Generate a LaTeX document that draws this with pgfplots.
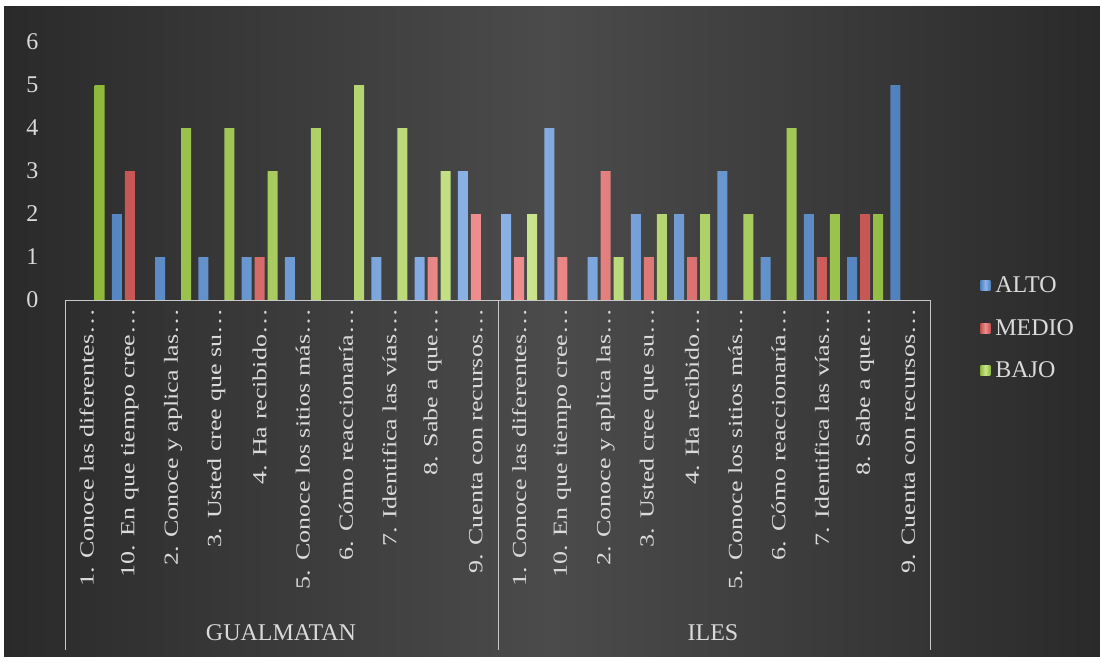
\documentclass[border=0pt]{standalone}
\usepackage{pgfplots}
\pgfplotsset{compat=1.18}
\usepackage{fontspec}
\setmainfont{Liberation Serif}
\newfontfamily\labfont[FakeStretch=1.3]{Liberation Serif}
\definecolor{bgdark}{HTML}{2A2A2A}
\definecolor{bgmid}{HTML}{4B4B4B}
\definecolor{txt}{HTML}{DADADA}
\definecolor{axl}{HTML}{C8C8C8}
\definecolor{alto}{HTML}{4F81BD}
\definecolor{altol}{HTML}{8DB3E8}
\definecolor{medio}{HTML}{C0504D}
\definecolor{mediol}{HTML}{F09090}
\definecolor{bajo}{HTML}{8DB83A}
\definecolor{bajol}{HTML}{CCE690}
\begin{document}
\begin{tikzpicture}[x=1pt,y=1pt]
\fill[white] (0,0) rectangle (1100,662);
\shade[left color=bgdark, right color=bgdark, middle color=bgmid] (4,6) rectangle (1100,655);
\begin{axis}[
  at={(65pt,362pt)}, anchor=south west,
  scale only axis, width=865pt, height=258pt,
  xmin=-0.5, xmax=19.5, ymin=0, ymax=6,
  ybar=3pt, bar width=10pt,
  axis line style={draw=none}, tick style={draw=none},
  ytick={0,1,2,3,4,5,6},
  xtick={0,...,19},
  xticklabels={{1. Conoce las diferentes…},{10. En que tiempo cree…},{2. Conoce y aplica las…},{3. Usted cree que su…},{4. Ha recibido…},{5. Conoce los sitios más…},{6. Cómo reaccionaría…},{7. Identifica las vías…},{8. Sabe a que…},{9. Cuenta con recursos…},
  {1. Conoce las diferentes…},{10. En que tiempo cree…},{2. Conoce y aplica las…},{3. Usted cree que su…},{4. Ha recibido…},{5. Conoce los sitios más…},{6. Cómo reaccionaría…},{7. Identifica las vías…},{8. Sabe a que…},{9. Cuenta con recursos…}},
  xticklabel style={rotate=90, anchor=east, font=\labfont\fontsize{20}{20}\selectfont, text=txt, xshift=-1pt},
  yticklabel style={font=\fontsize{24}{24}\selectfont, text=txt, xshift=-23pt},
  /pgf/number format/assume math mode=true,
  legend style={at={(1.058,0.09)}, anchor=north west, draw=none, fill=none, text=txt,
    font=\fontsize{24}{24}\selectfont, row sep=25pt, inner sep=0pt,
    nodes={inner xsep=5pt, inner ysep=0pt}},
  legend cell align=left,
  legend image code/.code={\fill[#1, draw=none] (0pt,-5pt) rectangle (10pt,5pt);},
  clip=false,
]
\addplot[draw=none, left color=alto, right color=alto, middle color=altol] coordinates {
(0,0) (1,2) (2,1) (3,1) (4,1) (5,1) (6,0) (7,1) (8,1) (9,3)
(10,2) (11,4) (12,1) (13,2) (14,2) (15,3) (16,1) (17,2) (18,1) (19,5)};
\addplot[draw=none, left color=medio, right color=medio, middle color=mediol] coordinates {
(0,0) (1,3) (2,0) (3,0) (4,1) (5,0) (6,0) (7,0) (8,1) (9,2)
(10,1) (11,1) (12,3) (13,1) (14,1) (15,0) (16,0) (17,1) (18,2) (19,0)};
\addplot[draw=none, left color=bajo, right color=bajo, middle color=bajol] coordinates {
(0,5) (1,0) (2,4) (3,4) (4,3) (5,4) (6,5) (7,4) (8,3) (9,0)
(10,2) (11,0) (12,1) (13,2) (14,2) (15,2) (16,4) (17,2) (18,2) (19,0)};
\legend{ALTO,MEDIO,BAJO}
\end{axis}
\draw[axl, line width=0.8pt] (65,362) -- (930,362);
\draw[axl, line width=0.8pt] (65,362) -- (65,12);
\draw[axl, line width=0.8pt] (498,362) -- (498,12);
\draw[axl, line width=0.8pt] (930,362) -- (930,12);
\node[text=txt, font=\fontsize{24}{24}\selectfont] at (281,29) {GUALMATAN};
\node[text=txt, font=\fontsize{24}{24}\selectfont] at (713,29) {ILES};
\end{tikzpicture}
\end{document}
